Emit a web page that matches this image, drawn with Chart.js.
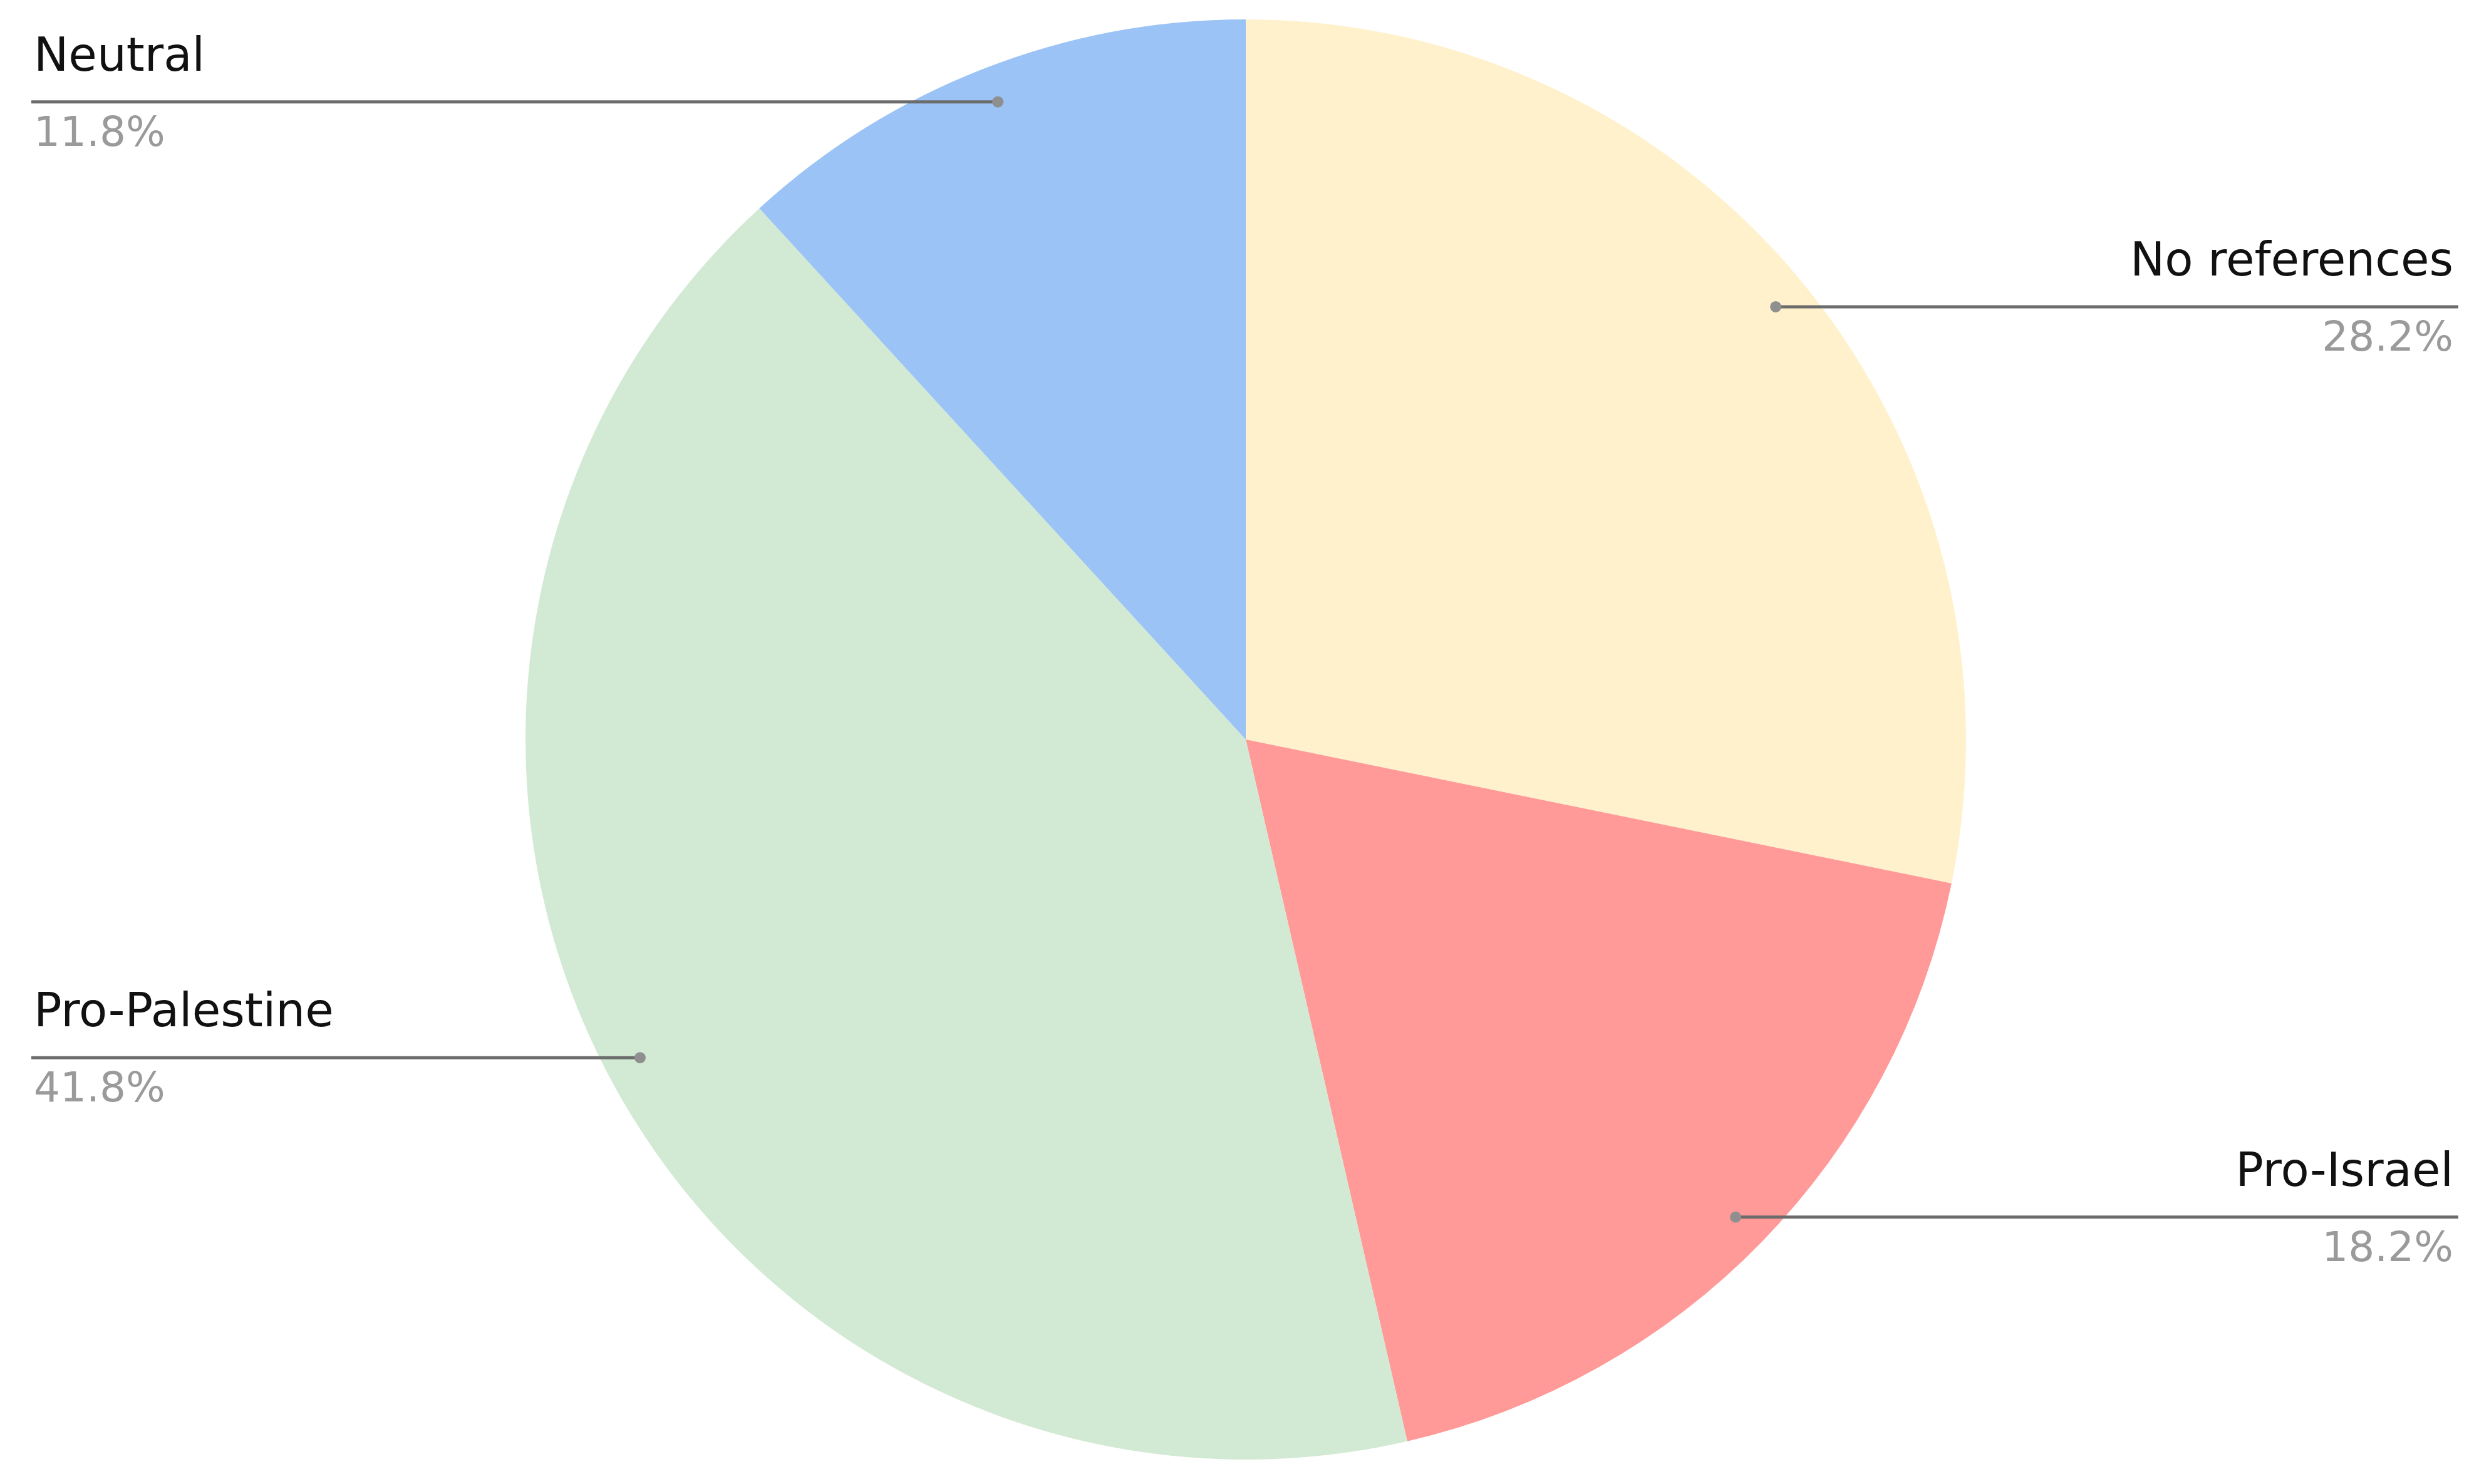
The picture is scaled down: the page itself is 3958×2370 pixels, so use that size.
<!DOCTYPE html>
<html>
<head>
<meta charset="utf-8">
<script src="https://cdn.jsdelivr.net/npm/chart.js@4.4.1/dist/chart.umd.min.js"></script>
<style>
  html, body { margin: 0; padding: 0; background: #ffffff; }
  #wrap { width: 3958px; height: 2370px; position: relative; }
</style>
</head>
<body>
<div id="wrap"><canvas id="c" width="3958" height="2370"></canvas></div>
<script>
const categories = ["No references", "Pro-Israel", "Pro-Palestine", "Neutral"];
const values = [28.2, 18.2, 41.8, 11.8];
const percentLabels = ["28.2%", "18.2%", "41.8%", "11.8%"];
const sliceColors = ["#FFF1CC", "#FF9A99", "#D2EAD3", "#9BC3F6"];

const calloutPlugin = {
  id: 'callouts',
  afterDatasetsDraw(chart) {
    const ctx = chart.ctx;
    const meta = chart.getDatasetMeta(0);
    const W = chart.width;
    meta.data.forEach((arc, i) => {
      const p = arc.getProps(['x', 'y', 'startAngle', 'endAngle', 'outerRadius'], true);
      const mid = (p.startAngle + p.endAngle) / 2;
      const r = p.outerRadius * 0.95;
      const px = p.x + Math.cos(mid) * r;
      const py = p.y + Math.sin(mid) * r;
      const left = Math.cos(mid) < 0;
      const edgeX = left ? 50 : W - 33;
      ctx.save();
      ctx.strokeStyle = '#6c6c6c';
      ctx.lineWidth = 5;
      ctx.beginPath();
      ctx.moveTo(px, py);
      ctx.lineTo(edgeX, py);
      ctx.stroke();
      ctx.fillStyle = '#8f8f8f';
      ctx.beginPath();
      ctx.arc(px, py, 9, 0, Math.PI * 2);
      ctx.fill();
      ctx.textAlign = left ? 'left' : 'right';
      const tx = left ? 54 : W - 41;
      ctx.textBaseline = 'alphabetic';
      ctx.font = '74px "DejaVu Sans"';
      ctx.fillStyle = '#111111';
      ctx.fillText(categories[i], tx, py - 50);
      ctx.font = '66px "DejaVu Sans"';
      ctx.fillStyle = '#9a9a9a';
      ctx.fillText(percentLabels[i], tx, py + 70);
      ctx.restore();
    });
  }
};

new Chart(document.getElementById('c'), {
  type: 'pie',
  data: {
    labels: categories,
    datasets: [{
      data: values,
      backgroundColor: sliceColors,
      borderWidth: 0
    }]
  },
  options: {
    responsive: false,
    animation: false,
    layout: { padding: { top: 31, bottom: 39, left: 20, right: 0 } },
    plugins: {
      legend: { display: false },
      tooltip: { enabled: false }
    }
  },
  plugins: [calloutPlugin]
});
</script>
</body>
</html>
